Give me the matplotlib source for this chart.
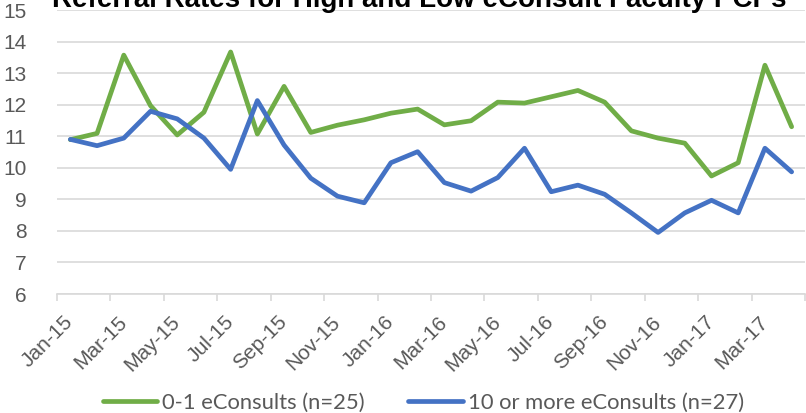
import matplotlib.pyplot as plt
from matplotlib.ticker import FixedLocator

months = ['Jan-15', 'Feb-15', 'Mar-15', 'Apr-15', 'May-15', 'Jun-15', 'Jul-15',
          'Aug-15', 'Sep-15', 'Oct-15', 'Nov-15', 'Dec-15', 'Jan-16', 'Feb-16',
          'Mar-16', 'Apr-16', 'May-16', 'Jun-16', 'Jul-16', 'Aug-16', 'Sep-16',
          'Oct-16', 'Nov-16', 'Dec-16', 'Jan-17', 'Feb-17', 'Mar-17', 'Apr-17']

low_econsult = [10.89, 11.09, 13.57, 11.97, 11.04, 11.76, 13.67, 11.07, 12.58, 11.12,
                11.35, 11.52, 11.73, 11.86, 11.36, 11.49, 12.08, 12.05, 12.25, 12.45,
                12.08, 11.17, 10.94, 10.78, 9.74, 10.16, 13.25, 11.30]

high_econsult = [10.90, 10.70, 10.94, 11.79, 11.55, 10.94, 9.95, 12.13, 10.72, 9.67,
                 9.10, 8.89, 10.16, 10.51, 9.53, 9.26, 9.69, 10.62, 9.24, 9.45,
                 9.16, 8.57, 7.95, 8.57, 8.97, 8.57, 10.62, 9.87]

label_low = '0-1 eConsults (n=25)'
label_high = '10 or more eConsults (n=27)'
title = 'Referral Rates for High and Low eConsult Faculty PCPs'

green = '#70AD47'
blue = '#4472C4'
grey_text = '#595959'
grid_col = '#D9D9D9'

plt.rcParams['font.family'] = ['Liberation Sans', 'DejaVu Sans']

fig = plt.figure(figsize=(8.06, 4.13), dpi=100)
ax = fig.add_axes([57 / 806, 1 - 294 / 413, 748 / 806, 284 / 413])

x = list(range(len(months)))
ax.plot(x, low_econsult, color=green, lw=3.4, solid_joinstyle='round',
        solid_capstyle='round', label=label_low)
ax.plot(x, high_econsult, color=blue, lw=3.4, solid_joinstyle='round',
        solid_capstyle='round', label=label_high)

ax.set_xlim(-0.5, len(months) - 0.5)
ax.set_ylim(6, 15)
ax.set_yticks(range(6, 16))
ax.yaxis.grid(True, color=grid_col, lw=1.2)
ax.set_axisbelow(True)

# tick marks between categories, labels on every other category
ax.xaxis.set_major_locator(FixedLocator([i - 0.5 for i in range(0, len(months) + 1, 2)]))
ax.xaxis.set_major_formatter(plt.NullFormatter())
ax.xaxis.set_minor_locator(FixedLocator(x[::2]))
ax.set_xticklabels(months[::2], minor=True, rotation=45, ha='right', va='center',
                   rotation_mode='anchor', color=grey_text, fontsize=15)
ax.tick_params(axis='x', which='major', length=5, color=grid_col, width=1.2)
ax.tick_params(axis='x', which='minor', length=0, pad=18)
ax.tick_params(axis='y', length=0, pad=22, labelcolor=grey_text, labelsize=15)

for side in ['top', 'right', 'left']:
    ax.spines[side].set_visible(False)
ax.spines['bottom'].set_color(grid_col)
ax.spines['bottom'].set_linewidth(1.2)

fig.text(0.52, 1 - 7 / 413, title, ha='center', va='baseline',
         fontsize=20, fontweight='bold', color='black')

fig.legend(loc='center', bbox_to_anchor=(0.525, 1 - 403 / 413), ncol=2, frameon=False,
           prop={'family': ['Lato', 'DejaVu Sans'], 'size': 15.8},
           labelcolor=grey_text, handlelength=2.5, handletextpad=0.2,
           columnspacing=2.0, borderpad=0)

fig.savefig('out.png', dpi=100)
